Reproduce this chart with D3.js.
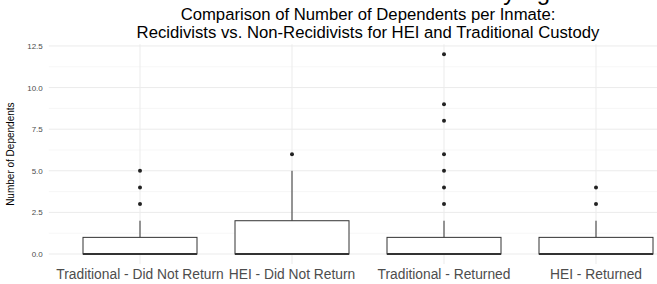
<!DOCTYPE html>
<html>
<head>
<meta charset="utf-8">
<script src="https://cdn.jsdelivr.net/npm/d3@7"></script>
<style>
  body { margin: 0; background: #fff; }
  text { font-family: "Liberation Sans", Arial, sans-serif; }
</style>
</head>
<body>
<div id="chart"></div>
<script>
// box stats
var categories = ["Traditional - Did Not Return", "HEI - Did Not Return", "Traditional - Returned", "HEI - Returned"];
var lowerQ = [0, 0, 0, 0];
var medians = [0, 0, 0, 0];
var upperQ = [1, 2, 1, 1];
var whiskLow = [0, 0, 0, 0];
var whiskHigh = [2, 5, 2, 2];
var outliers = [[3, 4, 5], [6], [3, 4, 5, 6, 8, 9, 12], [3, 4]];
var yTicks = [0, 2.5, 5, 7.5, 10, 12.5];
var yMinor = [1.25, 3.75, 6.25, 8.75, 11.25];

var width = 657, height = 284;

var svg = d3.select("#chart").append("svg")
    .attr("width", width)
    .attr("height", height);

// x: band centers 140, 292, 444, 596 (panel runs past the right edge)
var x = d3.scaleBand()
    .domain(categories)
    .range([64, 672])
    .padding(0);

var y = d3.scaleLinear()
    .domain([-0.6, 12.6])
    .range([264, 44.3]);

var panelLeft = x(categories[0]) + x.bandwidth() / 2 - 0.6 * x.step();
var panelRight = width + 40;
var boxW = x.bandwidth() * 0.75;

function cx(c) { return x(c) + x.bandwidth() / 2; }

// grid
svg.append("g").selectAll("line.minor")
    .data(yMinor)
    .enter().append("line")
    .attr("x1", panelLeft).attr("x2", panelRight)
    .attr("y1", function(d) { return y(d); })
    .attr("y2", function(d) { return y(d); })
    .attr("stroke", "#f2f2f2")
    .attr("stroke-width", 0.7);

svg.append("g").selectAll("line.major")
    .data(yTicks)
    .enter().append("line")
    .attr("x1", panelLeft).attr("x2", panelRight)
    .attr("y1", function(d) { return y(d); })
    .attr("y2", function(d) { return y(d); })
    .attr("stroke", "#ebebeb")
    .attr("stroke-width", 1);

svg.append("g").selectAll("line.vmajor")
    .data(categories)
    .enter().append("line")
    .attr("x1", cx).attr("x2", cx)
    .attr("y1", y.range()[1]).attr("y2", y.range()[0])
    .attr("stroke", "#ebebeb")
    .attr("stroke-width", 1);

// y axis labels
var yAxis = svg.append("g")
    .attr("transform", "translate(" + (panelLeft - 3) + ",0)")
    .call(d3.axisLeft(y).tickValues(yTicks).tickSize(0).tickPadding(3)
        .tickFormat(d3.format(".1f")));
yAxis.select(".domain").remove();
yAxis.selectAll("text")
    .attr("fill", "#4d4d4d")
    .style("font-size", "8px")
    .style("font-family", "'Liberation Sans', Arial, sans-serif");

svg.append("text")
    .attr("transform", "translate(14," + y(6) + ") rotate(-90)")
    .attr("text-anchor", "middle")
    .attr("font-size", "10px")
    .attr("fill", "#000")
    .text("Number of Dependents");

// x axis labels
var xAxis = svg.append("g")
    .attr("transform", "translate(0," + y.range()[0] + ")")
    .call(d3.axisBottom(x).tickSize(0).tickPadding(5));
xAxis.select(".domain").remove();
xAxis.selectAll("text")
    .attr("fill", "#4d4d4d")
    .style("font-size", "13.8px")
    .style("font-family", "'Liberation Sans', Arial, sans-serif");

// boxes
var boxes = svg.append("g").selectAll("g.box")
    .data(categories)
    .enter().append("g");

boxes.append("line")
    .attr("x1", cx).attr("x2", cx)
    .attr("y1", function(d, i) { return y(upperQ[i]); })
    .attr("y2", function(d, i) { return y(whiskHigh[i]); })
    .attr("stroke", "#333")
    .attr("stroke-width", 1);

boxes.append("line")
    .attr("x1", cx).attr("x2", cx)
    .attr("y1", function(d, i) { return y(lowerQ[i]); })
    .attr("y2", function(d, i) { return y(whiskLow[i]); })
    .attr("stroke", "#333")
    .attr("stroke-width", 1);

boxes.append("rect")
    .attr("x", function(d) { return cx(d) - boxW / 2; })
    .attr("width", boxW)
    .attr("y", function(d, i) { return y(upperQ[i]); })
    .attr("height", function(d, i) { return y(lowerQ[i]) - y(upperQ[i]); })
    .attr("fill", "#fff")
    .attr("stroke", "#333")
    .attr("stroke-width", 1);

boxes.append("line")
    .attr("x1", function(d) { return cx(d) - boxW / 2; })
    .attr("x2", function(d) { return cx(d) + boxW / 2; })
    .attr("y1", function(d, i) { return y(medians[i]); })
    .attr("y2", function(d, i) { return y(medians[i]); })
    .attr("stroke", "#333")
    .attr("stroke-width", 2);

boxes.each(function(c, i) {
    d3.select(this).selectAll("circle")
        .data(outliers[i])
        .enter().append("circle")
        .attr("cx", cx(c))
        .attr("cy", function(d) { return y(d); })
        .attr("r", 2)
        .attr("fill", "#222");
});

// cropped heading from the figure above
svg.append("text")
    .attr("x", 490)
    .attr("y", 0)
    .attr("font-family", "'Liberation Serif', 'Times New Roman', serif")
    .attr("font-size", "24px")
    .attr("fill", "#000")
    .text("by Age");

// title
var titleX = (panelLeft + x.range()[1] + 0.6 * x.step() - x.bandwidth() / 2) / 2;
var title = svg.append("text")
    .attr("text-anchor", "middle")
    .attr("font-size", "16.7px")
    .attr("fill", "#000");
title.append("tspan").attr("x", titleX).attr("y", 20)
    .text("Comparison of Number of Dependents per Inmate:");
title.append("tspan").attr("x", titleX).attr("y", 38)
    .text("Recidivists vs. Non-Recidivists for HEI and Traditional Custody");
</script>
</body>
</html>
